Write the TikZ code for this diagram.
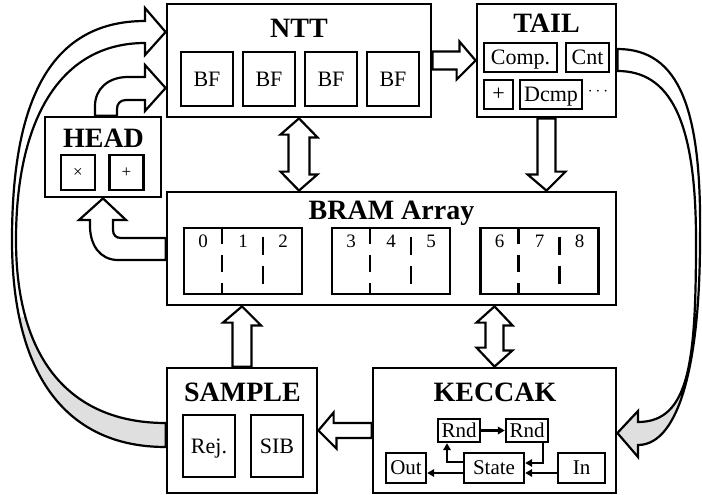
\documentclass[tikz,border=0pt]{standalone}
\usepackage{fontspec}
\setmainfont{Liberation Serif}
\usetikzlibrary{arrows.meta}

\begin{document}
\begin{tikzpicture}[
            x = 1pt, y = -1pt, % pixel like units, y grows downwards
            > = {Triangle[length=7pt,width=7.5pt]}, % arrow head style
            box/.style = {draw, line width=2.8pt, inner sep=0pt},
            unit/.style = {draw, line width=2.6pt, inner sep=0pt, text depth=0pt, font=\fontsize{22}{24}\selectfont},
            kunit/.style = {unit, line width=2.4pt, font=\fontsize{21}{22}\selectfont},
            title/.style = {anchor=base, inner sep=0pt, font=\fontsize{28}{30}\selectfont\bfseries},
            digit/.style = {anchor=base, inner sep=0pt, font=\fontsize{19}{19}\selectfont},
            bigarrow/.style = {draw, line width=2.2pt, fill=white, line join=miter},
            wire/.style = {line width=2.2pt}
        ]
\useasboundingbox (0,0) rectangle (702,495);

% main blocks
\node[box, minimum width=264pt, minimum height=113pt] (ntt) at (299,60.5) {};
\node[box, minimum width=139pt, minimum height=113pt] (tail) at (546.5,60.5) {};
\node[box, minimum width=116pt, minimum height=80pt] (head) at (103,157) {};
\node[box, minimum width=449pt, minimum height=113pt] (bram) at (391.5,248.5) {};
\node[box, minimum width=150pt, minimum height=125pt] (sample) at (242,430.5) {};
\node[box, minimum width=243pt, minimum height=125pt] (keccak) at (494.5,430.5) {};

\node[title] (nttname) at (299,38) {NTT};
\node[title] (tailname) at (546.5,33) {TAIL};
\node[title] (headname) at (103.5,147) {HEAD};
\node[title] (bramname) at (391.5,219) {BRAM Array};
\node[title] (samplename) at (242.5,401) {SAMPLE};
\node[title] (keccakname) at (495,401) {KECCAK};

% NTT
\foreach \n/\x in {1/207, 2/269, 3/331, 4/393}
    \node[unit, minimum width=52pt, minimum height=54pt] (bf\n) at (\x,79) {BF};

% TAIL
\node[unit, minimum width=73pt, minimum height=29pt] (comp) at (520.5,57.5) {Comp.};
\node[unit, minimum width=43pt, minimum height=29pt] (cnt) at (587.5,57.5) {Cnt};
\node[unit, minimum width=29pt, minimum height=29pt] (tadd) at (498.5,94.5) {+};
\node[unit, minimum width=62pt, minimum height=29pt] (dcmp) at (551,94.5) {Dcmp};
\node[inner sep=0pt, font=\fontsize{16}{16}\selectfont] (more) at (598,92) {$\cdots$};

% HEAD
\node[unit, minimum width=34pt, minimum height=35pt, font=\fontsize{17}{17}\selectfont] (mul) at (78,172.5) {×};
\node[unit, minimum width=34pt, minimum height=35pt, font=\fontsize{17}{17}\selectfont] (add) at (126.5,172.5) {+};

% BRAM banks
\foreach \b/\x/\i/\j/\k in {banka/243/0/1/2, bankb/391/3/4/5, bankc/539.5/6/7/8} {
    \node[unit, minimum width=118pt, minimum height=66pt] (\b) at (\x,261) {};
    \path (\b.north) ++(-40,21) node[digit] {\i};
    \path (\b.north) ++(0,21) node[digit] {\j};
    \path (\b.north) ++(40,21) node[digit] {\k};
    \draw[line width=2.6pt, dash pattern=on 17pt off 11pt] ([xshift=-21pt]\b.north) -- ([xshift=-21pt]\b.south);
    \draw[line width=2.6pt, dash pattern=on 18pt off 11pt] ([xshift=20pt,yshift=-10pt]\b.north) -- ++(0,47);
}

% SAMPLE
\node[unit, minimum width=52pt, minimum height=62pt] (rej) at (209,446) {Rej.};
\node[unit, minimum width=52pt, minimum height=62pt] (sib) at (277,446) {SIB};

% KECCAK
\node[kunit, minimum width=42pt, minimum height=23pt] (rnda) at (459,430.5) {Rnd};
\node[kunit, minimum width=42pt, minimum height=23pt] (rndb) at (527,430.5) {Rnd};
\node[kunit, minimum width=40pt, minimum height=30pt] (out) at (406,468) {Out};
\node[kunit, minimum width=60pt, minimum height=30pt] (state) at (494,468) {State};
\node[kunit, minimum width=47pt, minimum height=30pt] (inp) at (581.5,468) {In};

\draw[wire, ->] (rnda) -- (rndb);
\draw[wire, ->] ([xshift=16pt]rndb.south) |- ([yshift=5pt]state.east);
\draw[wire, ->] ([yshift=-5pt]inp.west) -- ([yshift=-5pt]state.east);
\draw[wire, ->] ([yshift=-5pt]state.west) -- ([yshift=-5pt]out.east);
\draw[wire, ->] ([yshift=6pt]state.west) -| ([xshift=-12pt]rnda.south);

% block arrows
\draw[bigarrow] ([yshift=9pt]ntt.east) -- ++(27,0) -- ++(0,-10) -- (tail.west)
    -- ++(-19,19) -- ++(0,-10) -- ([yshift=-9pt]ntt.east) -- cycle;
\draw[bigarrow] ([xshift=-9pt]tail.south) -- ++(0,56) -- ++(-10,0) -- (tail.south |- bram.north)
    -- ++(19,-19) -- ++(-10,0) -- ([xshift=9pt]tail.south) -- cycle;
\draw[bigarrow] (ntt.south) -- ++(18.5,19) -- ++(-8,0) -- ++(0,37) -- ++(8,0) -- (ntt.south |- bram.north)
    -- ++(-18.5,-19) -- ++(8,0) -- ++(0,-37) -- ++(-8,0) -- cycle;
\draw[bigarrow] (keccak.north |- bram.south) -- ++(18,19) -- ++(-9,0) -- ++(0,25) -- ++(9,0) -- (keccak.north)
    -- ++(-18,-19) -- ++(9,0) -- ++(0,-25) -- ++(-9,0) -- cycle;
\draw[bigarrow] ([xshift=-9.5pt]sample.north) -- ++(0,-44) -- ++(-9.5,0) -- (sample.north |- bram.south)
    -- ++(19,19) -- ++(-9.5,0) -- ([xshift=9.5pt]sample.north) -- cycle;
\draw[bigarrow] ([yshift=7.5pt]keccak.west) -- ++(-38,0) -- ++(0,-10.5) -- (sample.east)
    -- ++(18,18) -- ++(0,-10.5) -- ([yshift=-7.5pt]keccak.west) -- cycle;

\draw[bigarrow] ([yshift=-11.5pt]bram.west) -- (118,260) .. controls (100,260) and (90,245) .. (90,226)
    -- (90,220) -- (79,220) -- (head.south) -- (126,220) -- (113,220) -- (113,230)
    .. controls (113,235) and (116,238) .. (121,238) -- ([yshift=10.5pt]bram.west) -- cycle;
\draw[bigarrow] ([xshift=-8pt]head.north) -- (95,106) .. controls (95,89) and (108,77) .. (128,77)
    -- (145,77) -- (145,65) -- ([yshift=-27.5pt]ntt.west) -- (145,111) -- (145,100) -- (126,100)
    .. controls (120,100) and (117,104) .. (117,109) -- ([xshift=14pt]head.north) -- cycle;

% long arrows round the sides
\draw[bigarrow, path picture={\fill[gray!25] (0,317) rectangle (200,495);}]
    (145,21) .. controls (45,21) and (12,110) .. (12,240)
    .. controls (12,380) and (70,447) .. ([yshift=-16.5pt]sample.west)
    -- ([yshift=7.5pt]sample.west) .. controls (75,423) and (16,365) .. (16,240)
    .. controls (16,120) and (60,43) .. (145,43)
    -- (145,55) -- ([yshift=28.5pt]ntt.west) -- (145,8) -- cycle;
\draw[bigarrow, path picture={\fill[gray!25] (560,333) rectangle (702,495);}]
    ([yshift=11.5pt]tail.east) .. controls (680,49) and (702,110) .. (700,240)
    .. controls (700,360) and (680,445) .. (638,445)
    -- (638,457) -- ([yshift=-2.5pt]keccak.east) -- (638,411) -- (638,422)
    .. controls (690,422) and (696,360) .. (696,240)
    .. controls (696,120) and (670,71) .. ([yshift=-10.5pt]tail.east) -- cycle;
\end{tikzpicture}
\end{document}
